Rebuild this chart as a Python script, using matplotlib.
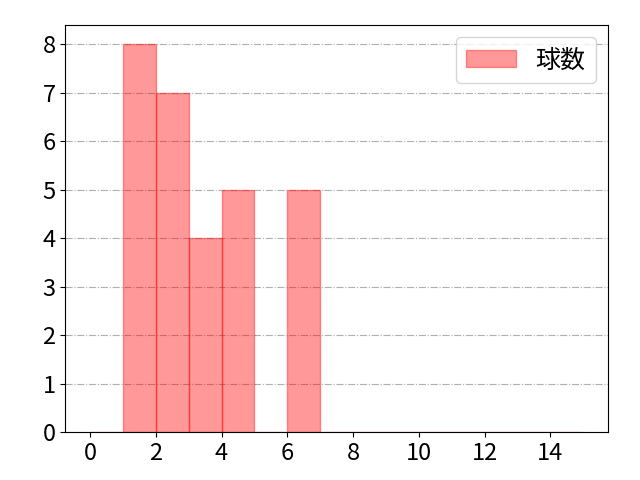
import matplotlib
matplotlib.use("Agg")
import matplotlib.pyplot as plt

plt.rcParams['font.family'] = ['Noto Sans CJK JP', 'DejaVu Sans']

bin_edges = list(range(0, 16))
counts = [0, 8, 7, 4, 5, 0, 5, 0, 0, 0, 0, 0, 0, 0, 0]
label = "球数"

fig, ax = plt.subplots(figsize=(6.4, 4.8), dpi=100)
ax.bar(bin_edges[:-1], counts, width=1, align='edge',
       color=(1, 0, 0, 0.4), edgecolor=(1, 0, 0, 0.4), linewidth=1, label=label)
ax.set_xlim(-0.75, 15.75)
ax.set_ylim(0, 8.4)
ax.set_xticks(range(0, 15, 2))
ax.set_yticks(range(0, 9))
ax.tick_params(labelsize=17)
ax.grid(axis='y', linestyle='-.', color='#b0b0b0', linewidth=0.8)
ax.set_axisbelow(True)
ax.legend(loc='upper right', fontsize=18)
fig.subplots_adjust(left=0.102, right=0.95, top=0.948, bottom=0.1)
fig.savefig("out.png", dpi=100)
